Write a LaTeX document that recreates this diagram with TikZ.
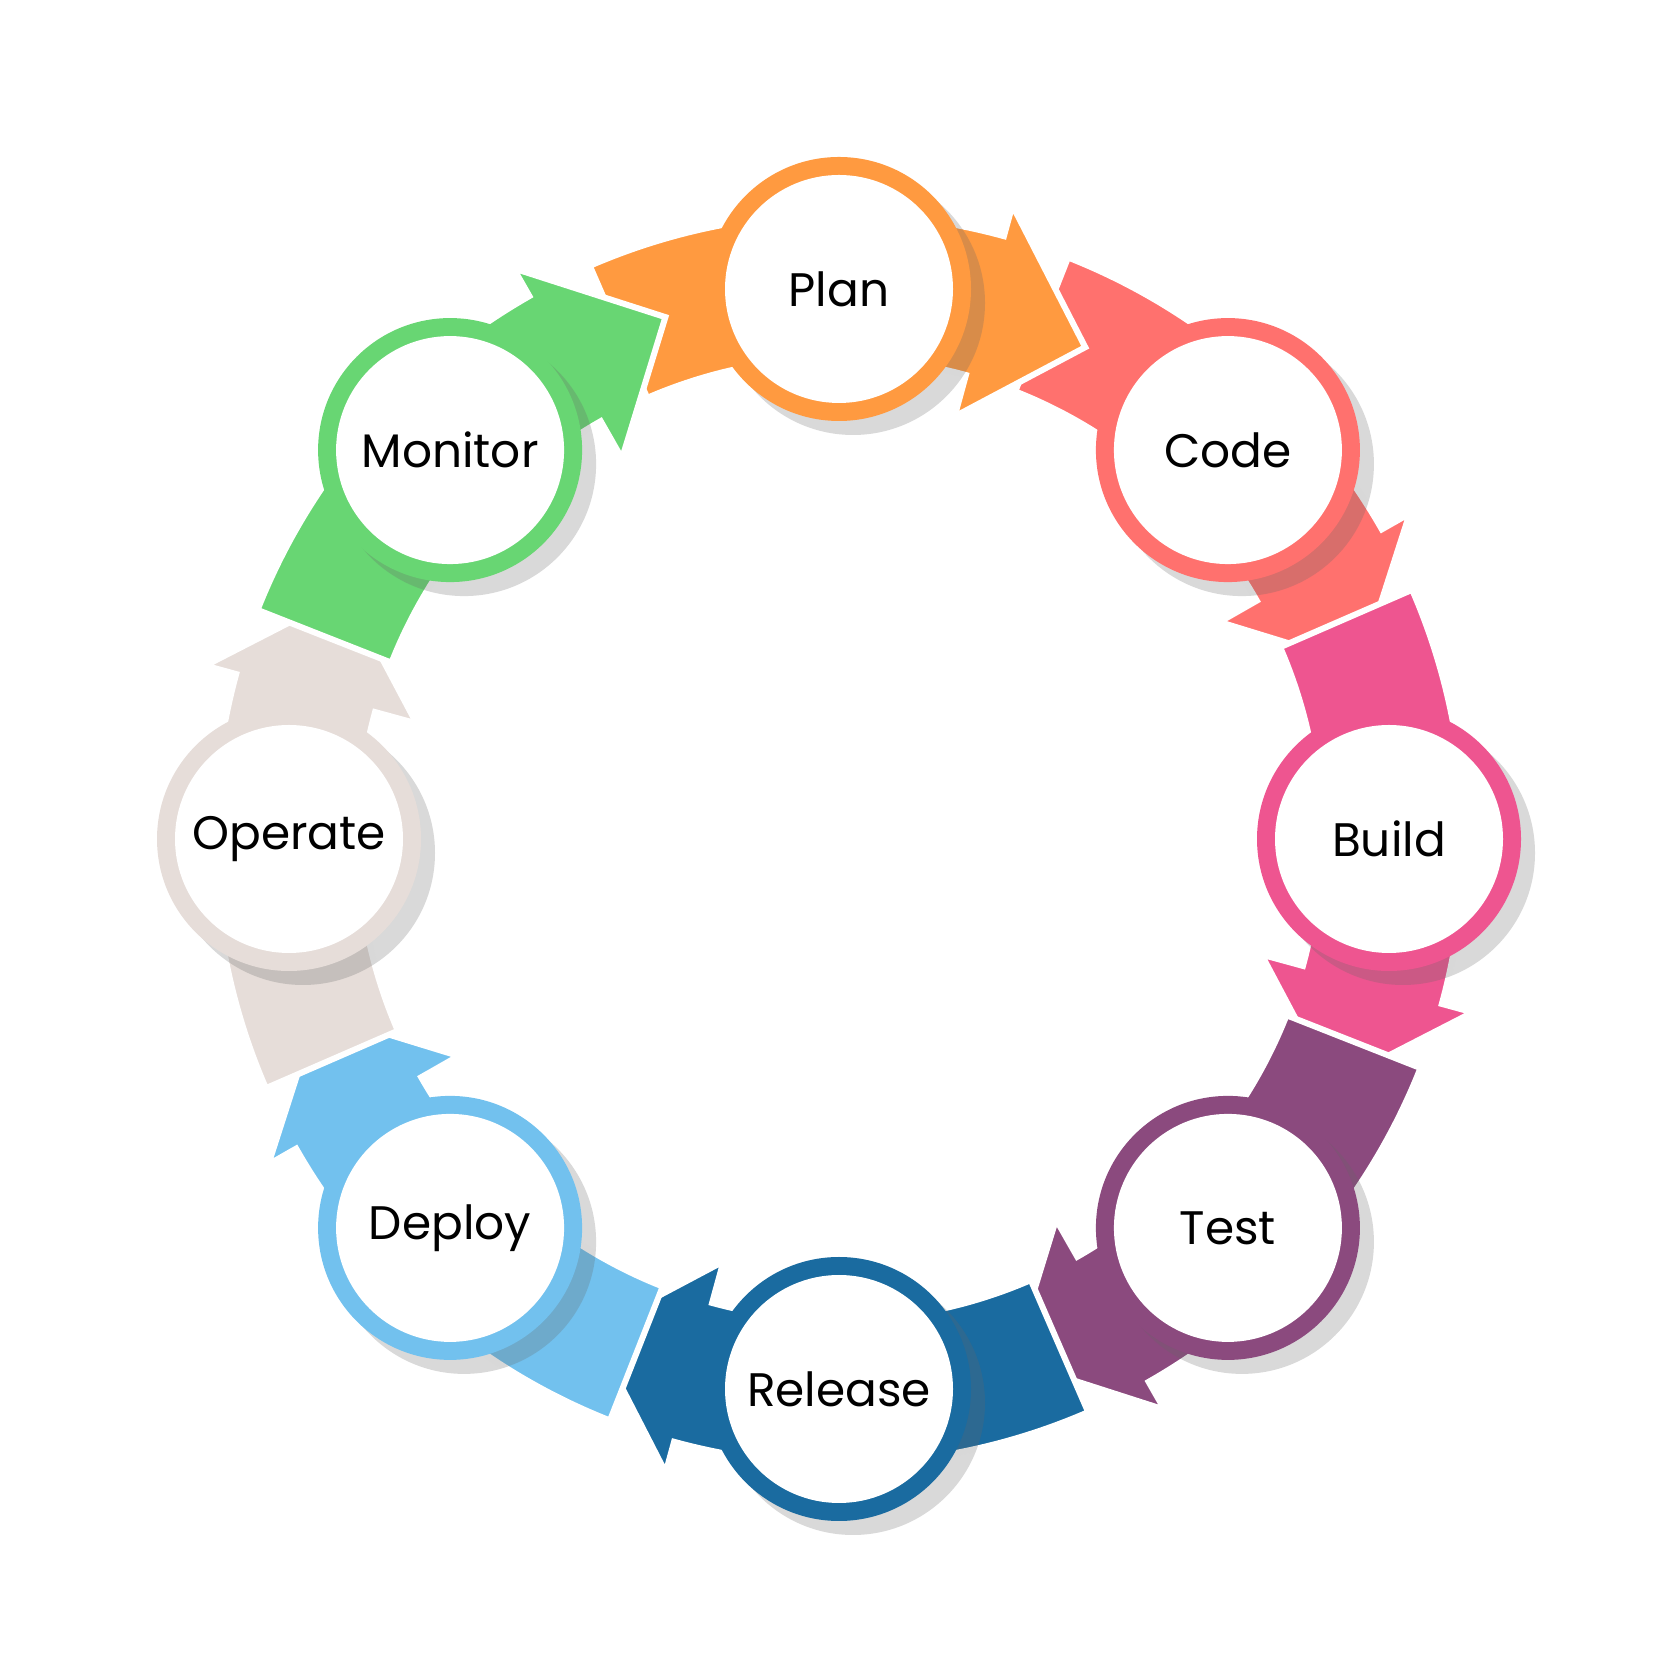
\documentclass[tikz,border=0pt]{standalone}
\usepackage{fontspec}
\setmainfont{Poppins}
\usetikzlibrary{shadows}
\definecolor{c0}{HTML}{FF9A40}
\definecolor{c1}{HTML}{FF716E}
\definecolor{c2}{HTML}{EE5590}
\definecolor{c3}{HTML}{8B4A7E}
\definecolor{c4}{HTML}{1A6BA0}
\definecolor{c5}{HTML}{72C1EE}
\definecolor{c6}{HTML}{E6DDD9}
\definecolor{c7}{HTML}{68D673}
\tikzset{
  arrowshape/.style={draw=white,line width=6pt,line join=miter},
  ring/.style={circle,minimum size=264pt,inner sep=0pt,
     drop shadow={shadow xshift=14pt,shadow yshift=-14pt,opacity=0.25,fill=black!60}},
  face/.style={circle,fill=white,minimum size=228pt,inner sep=0pt,
     font=\fontsize{47}{50}\selectfont},
}
\newcommand{\arrowpath}[2]{% angle a, start offset
  (#1+#2:625pt) arc[start angle=#1+#2,end angle=#1-15.3,radius=625pt]
  -- (#1-15.3:657pt) -- (#1-26.6:550pt) -- (#1-15.3:438pt) -- (#1-15.3:481pt)
  arc[start angle=#1-15.3,end angle=#1+#2,radius=481pt] -- cycle}
\begin{document}
\begin{tikzpicture}[x=1pt,y=1pt]
\useasboundingbox (0,0) rectangle (1667,1667);
\begin{scope}[shift={(839,828)}]
\foreach \i in {0,...,7}{
  \pgfmathsetmacro{\a}{90-45*\i}
  \path[arrowshape,fill=c\i] \arrowpath{\a}{23.5};
}
\path[arrowshape,fill=c0] \arrowpath{90}{0};
\foreach \i/\t in {0/Plan,1/Code,2/Build,3/Test,4/Release,5/Deploy,6/Operate,7/Monitor}{
  \pgfmathsetmacro{\a}{90-45*\i}
  \node[ring,fill=c\i] (r\i) at (\a:550pt) {};
  \node[face] (n\i) at (r\i) {\t};
}
\end{scope}
\end{tikzpicture}
\end{document}
